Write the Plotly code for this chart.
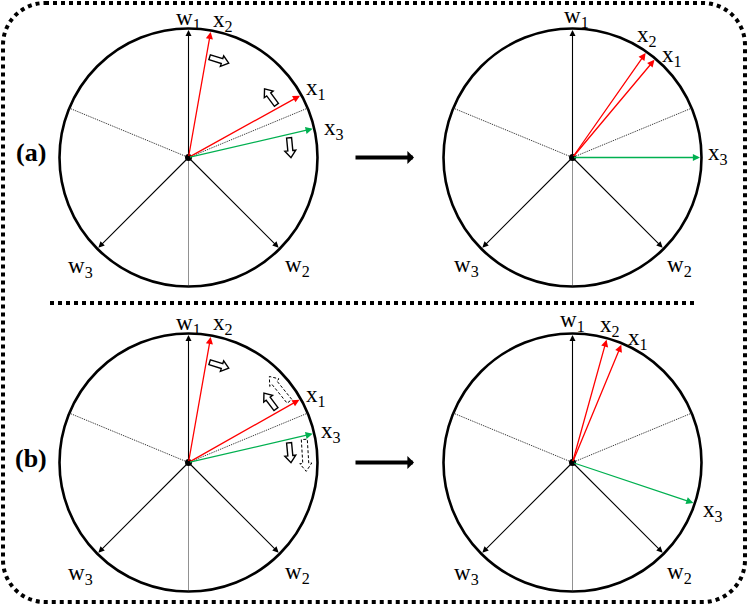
import math
import plotly.graph_objects as go

# vector angles in degrees, one entry per panel: (a) before, (a) after, (b) before, (b) after
panels = ["a_before", "a_after", "b_before", "b_after"]
x1_angle = [29, 50, 29.5, 67.5]
x2_angle = [80, 55, 80, 74.5]
x3_angle = [13, 0, 13, -18.5]
w_angle = [90, -45, -135]
w_names = ["w<sub>1</sub>", "w<sub>2</sub>", "w<sub>3</sub>"]
x_names = ["x<sub>1</sub>", "x<sub>2</sub>", "x<sub>3</sub>"]
# rotation hints on the "before" panels: (vector index, direction +1 ccw / -1 cw)
hint_vec = [1, 0, 2]
hint_dir = [-1, 1, -1]
# extra dashed hints in (b)
dash_vec = [0, 2]
dash_dir = [1, -1]

# layout (coordinates are page pixels)
W, H = 748, 605
R = 129
centers = [(188.5, 157.5), (572.5, 157.5), (188.5, 462.5), (572.5, 462.5)]
# label offsets from panel centre (pixels): w1, w2, w3, x1, x2, x3
label_off = [
    [(0, -139), (109, 108), (-108, 109), (127, -69), (34, -137), (145, -29)],
    [(4, -141), (107, 108), (-106, 108), (99, -102), (74, -122), (145, -4)],
    [(0, -139), (109, 110), (-108, 111), (127, -67), (34, -139), (142, -31)],
    [(0, -142), (107, 110), (-106, 111), (65, -124), (37, -137), (140, 48)],
]
RED = "#ff0000"
GREEN = "#00b050"
FONT = "Liberation Serif, Times New Roman, serif"

fig = go.Figure()
shapes = []
annotations = []


def pt(c, ang, r):
    a = math.radians(ang)
    return c[0] + r * math.cos(a), c[1] - r * math.sin(a)


def vec(c, ang, color, r=R - 1.5, width=1.3):
    tx, ty = pt(c, ang, r)
    annotations.append(dict(x=tx, y=ty, ax=c[0], ay=c[1], xref="x", yref="y",
                            axref="x", ayref="y", text="", showarrow=True,
                            arrowhead=2, arrowsize=1.1, arrowwidth=width,
                            arrowcolor=color, standoff=0, startstandoff=0))


def block_arrow(c, ang, r, direction, length, shaft, head, headlen, dash):
    # hollow arrow tangent to the circle at angle ang
    mx, my = pt(c, ang, r)
    d = math.radians(ang + direction * 90)
    ux, uy = math.cos(d), -math.sin(d)
    nx, ny = -uy, ux
    L = length / 2
    pts = [(-L, shaft), (L - headlen, shaft), (L - headlen, head), (L, 0),
           (L - headlen, -head), (L - headlen, -shaft), (-L, -shaft)]
    xy = [(mx + a * ux + b * nx, my + a * uy + b * ny) for a, b in pts]
    path = "M " + " L ".join(f"{x:.2f},{y:.2f}" for x, y in xy) + " Z"
    shapes.append(dict(type="path", path=path, xref="x", yref="y",
                       fillcolor="white",
                       line=dict(color="black", width=1 if dash else 1.4,
                                 dash="3px,2px" if dash else "solid")))


for i, c in enumerate(centers):
    cx, cy = c
    # circle
    shapes.append(dict(type="circle", xref="x", yref="y", x0=cx - R, x1=cx + R,
                       y0=cy - R, y1=cy + R, line=dict(color="black", width=2.6)))
    # dotted bisectors between the w vectors
    for k in range(3):
        b = (w_angle[k] + w_angle[(k + 1) % 3]) / 2 + (180 if k == 2 else 0)
        ex, ey = pt(c, b, R)
        shapes.append(dict(type="line", xref="x", yref="y", x0=cx, y0=cy, x1=ex, y1=ey,
                           line=dict(color="#222222", width=1, dash="1px,1px")))
    # w vectors
    for k, a in enumerate(w_angle):
        vec(c, a, "black", width=1.1)
    xs = [x1_angle[i], x2_angle[i], x3_angle[i]]
    vec(c, xs[0], RED)
    vec(c, xs[1], RED)
    vec(c, xs[2], GREEN)
    # centre dot
    shapes.append(dict(type="circle", xref="x", yref="y", x0=cx - 3.5, x1=cx + 3.5,
                       y0=cy - 3.5, y1=cy + 3.5, fillcolor="black", line=dict(width=0)))
    # labels
    names = w_names + x_names
    for k, txt in enumerate(names):
        dx, dy = label_off[i][k]
        annotations.append(dict(x=cx + dx, y=cy + dy, xref="x", yref="y", text=txt,
                                showarrow=False, font=dict(family=FONT, size=23, color="black")))
    # hints on the "before" panels
    if i in (0, 2):
        for v, s in zip(hint_vec, hint_dir):
            block_arrow(c, xs[v] + s * 7.5, 102, s, 20, 2.5, 5.5, 7, False)
    if i == 2:
        for v, s in zip(dash_vec, dash_dir):
            block_arrow(c, xs[v] + s * 9.5, 117, s, 32, 3, 6, 8, True)

# transition arrows between panels
for cy in (centers[0][1], centers[2][1]):
    annotations.append(dict(x=414, y=cy, ax=354, ay=cy, xref="x", yref="y",
                            axref="x", ayref="y", text="", showarrow=True,
                            arrowhead=1, arrowsize=0.55, arrowwidth=4,
                            arrowcolor="black", standoff=0, startstandoff=0))

# panel letters
for txt, cy in (("(a)", 152), ("(b)", 458)):
    annotations.append(dict(x=31, y=cy, xref="x", yref="y", text=f"<b>{txt}</b>",
                            showarrow=False, font=dict(family=FONT, size=26, color="black")))

# separator and rounded dotted frame
shapes.append(dict(type="line", xref="x", yref="y", x0=50, x1=697, y0=303, y1=303,
                   line=dict(color="black", width=4, dash="dot")))
k = 0.552 * 42
frame = (f"M 45,3 H 703 C {703 + k},3 745,{45 - k} 745,45 V 560 "
         f"C 745,{560 + k} {703 + k},602 703,602 H 45 C {45 - k},602 3,{560 + k} 3,560 "
         f"V 45 C 3,{45 - k} {45 - k},3 45,3 Z")
shapes.append(dict(type="path", xref="x", yref="y", path=frame,
                   line=dict(color="black", width=4, dash="dot")))

fig.update_layout(
    width=W, height=H, margin=dict(l=0, r=0, t=0, b=0),
    plot_bgcolor="white", paper_bgcolor="white", showlegend=False,
    xaxis=dict(range=[0, W], visible=False, fixedrange=True),
    yaxis=dict(range=[H, 0], visible=False, fixedrange=True),
    shapes=shapes, annotations=annotations,
)
# drop the default page margin so the figure sits at the window's corner
fig.write_html("out.html", config={"displayModeBar": False},
               post_script="document.body.style.margin='0';document.body.style.overflow='hidden';")
